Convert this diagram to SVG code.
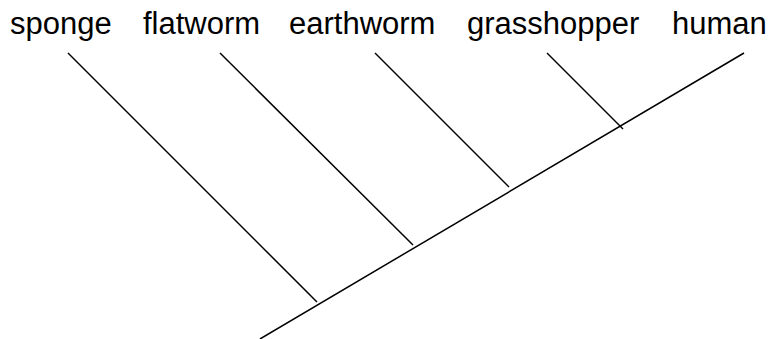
<svg xmlns="http://www.w3.org/2000/svg" width="772" height="339" viewBox="0 0 772 339">
  <style>
    .label { font-family: "Liberation Sans", Arial, sans-serif; font-size: 31px; fill: #000; }
    .edge { stroke: #000; stroke-width: 1.5; fill: none; }
  </style>
  <rect width="772" height="339" fill="#fff"/>
  <g id="connectors">
    <line class="edge" x1="260" y1="339" x2="744" y2="53"/>
    <line class="edge" x1="68" y1="53" x2="317" y2="302"/>
    <line class="edge" x1="220" y1="53" x2="413" y2="245"/>
    <line class="edge" x1="375" y1="53" x2="509" y2="187"/>
    <line class="edge" x1="547" y1="53" x2="623" y2="129"/>
  </g>
  <g id="sponge"><text class="label" x="10" y="34">sponge</text></g>
  <g id="flatworm"><text class="label" x="143" y="34">flatworm</text></g>
  <g id="earthworm"><text class="label" x="289" y="34">earthworm</text></g>
  <g id="grasshopper"><text class="label" x="467" y="34">grasshopper</text></g>
  <g id="human"><text class="label" x="672" y="34">human</text></g>
</svg>
